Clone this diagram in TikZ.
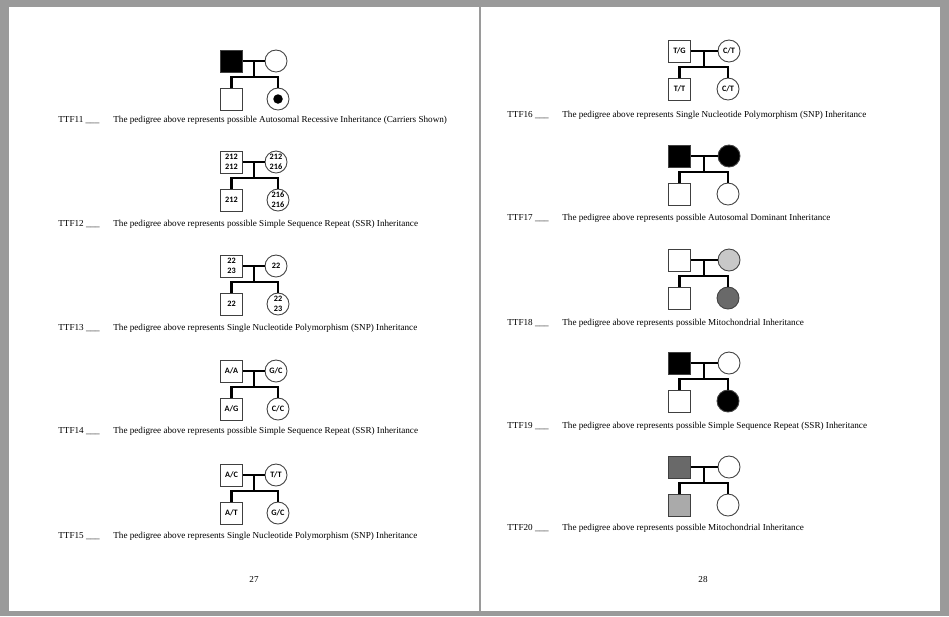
\documentclass[tikz,border=0pt]{standalone}
\usepackage{fontspec}
\setmainfont{Liberation Serif}
\newfontfamily\genofont{Carlito}
\usepackage{tikz}
\usetikzlibrary{calc}
\usepackage{xcolor}

\definecolor{pagegray}{RGB}{154,154,154}
\definecolor{lightfill}{RGB}{200,200,200}
\definecolor{darkfill}{RGB}{105,105,105}

\newcommand{\geno}{\genofont\bfseries\fontsize{4.7}{5.6}\selectfont}
\newcommand{\capt}{\fontsize{5.2}{6.2}\selectfont}

% lines of one pedigree: father f, mother m, son s, daughter d
\newcommand{\pedlines}[1]{%
  \coordinate (#1j) at ($(#1f.east)!0.5!(#1m.west)$);
  \draw[link] (#1f) -- (#1m);
  \draw[link] (#1j) -- ++(0,16) coordinate (#1k);
  \draw[link] (#1s.north) |- (#1k) -| (#1d.north);
}

\tikzset{
  male/.style={draw=black!75,line width=0.5pt,minimum size=0.44cm,inner sep=0pt,
    font=\geno,align=center},
  female/.style={male,circle},
  aff/.style={fill=black},
  link/.style={line width=1.2pt},
  caption/.style={anchor=base west,inner sep=0pt,font=\capt},
}

\begin{document}
\begin{tikzpicture}[x=0.02cm,y=-0.02cm]
\fill[pagegray] (0,0) rectangle (949,616);
\fill[white] (9,7) rectangle (478.5,611);
\fill[white] (480.5,7) rectangle (940,611);

% page 27
\node[male,aff] (af) at (231.5,61) {};
\node[female] (am) at (276,61) {};
\node[male] (as) at (231.5,99) {};
\node[female] (ad) at (278,99) {};
\node[circle,fill=black,minimum size=0.19cm,inner sep=0pt] (adot) at (ad) {};
\pedlines{a}
\node[caption] (ac) at (58,122) {TTF11 \_\_\_};
\node[caption] (at) at (113,122) {The pedigree above represents possible Autosomal Recessive Inheritance (Carriers Shown)};

\node[male] (bf) at (231.5,162) {212\\212};
\node[female] (bm) at (276,162) {212\\216};
\node[male] (bs) at (231.5,200) {212};
\node[female] (bd) at (278,200) {216\\216};
\pedlines{b}
\node[caption] (bc) at (58,226) {TTF12 \_\_\_};
\node[caption] (bt) at (113,226) {The pedigree above represents possible Simple Sequence Repeat (SSR) Inheritance};

\node[male] (cf) at (231.5,266) {22\\23};
\node[female] (cm) at (276,266) {22};
\node[male] (cs) at (231.5,304) {22};
\node[female] (cd) at (278,304) {22\\23};
\pedlines{c}
\node[caption] (cc) at (58,330) {TTF13 \_\_\_};
\node[caption] (ct) at (113,330) {The pedigree above represents Single Nucleotide Polymorphism (SNP) Inheritance};

\node[male] (df) at (231.5,371) {A/A};
\node[female] (dm) at (276,371) {G/C};
\node[male] (ds) at (231.5,409) {A/G};
\node[female] (dd) at (278,409) {C/C};
\pedlines{d}
\node[caption] (dc) at (58,433) {TTF14 \_\_\_};
\node[caption] (dt) at (113,433) {The pedigree above represents possible Simple Sequence Repeat (SSR) Inheritance};

\node[male] (ef) at (231.5,475) {A/C};
\node[female] (em) at (276,475) {T/T};
\node[male] (es) at (231.5,513) {A/T};
\node[female] (ed) at (278,513) {G/C};
\pedlines{e}
\node[caption] (ec) at (58,538) {TTF15 \_\_\_};
\node[caption] (et) at (113,538) {The pedigree above represents Single Nucleotide Polymorphism (SNP) Inheritance};

\node[font=\capt] (p27) at (254,579) {27};

% page 28
\node[male] (ff) at (679.5,51) {T/G};
\node[female] (fm) at (729,51) {C/T};
\node[male] (fs) at (679.5,89) {T/T};
\node[female] (fd) at (728,89) {C/T};
\pedlines{f}
\node[caption] (fc) at (507,117) {TTF16 \_\_\_};
\node[caption] (ft) at (562,117) {The pedigree above represents Single Nucleotide Polymorphism (SNP) Inheritance};

\node[male,aff] (gf) at (679.5,156) {};
\node[female,aff] (gm) at (729,156) {};
\node[male] (gs) at (679.5,194) {};
\node[female] (gd) at (728,194) {};
\pedlines{g}
\node[caption] (gc) at (507,220) {TTF17 \_\_\_};
\node[caption] (gt) at (562,220) {The pedigree above represents possible Autosomal Dominant Inheritance};

\node[male] (hf) at (679.5,260) {};
\node[female,fill=lightfill] (hm) at (729,260) {};
\node[male] (hs) at (679.5,298) {};
\node[female,fill=darkfill] (hd) at (728,298) {};
\pedlines{h}
\node[caption] (hc) at (507,325) {TTF18 \_\_\_};
\node[caption] (ht) at (562,325) {The pedigree above represents possible Mitochondrial Inheritance};

\node[male,aff] (if) at (679.5,363) {};
\node[female] (im) at (729,363) {};
\node[male] (is) at (679.5,401) {};
\node[female,aff] (id) at (728,401) {};
\pedlines{i}
\node[caption] (ic) at (507,428) {TTF19 \_\_\_};
\node[caption] (it) at (562,428) {The pedigree above represents possible Simple Sequence Repeat (SSR) Inheritance};

\node[male,fill=darkfill] (kf) at (679.5,467) {};
\node[female] (km) at (729,467) {};
\node[male,fill=lightfill!85!black] (ks) at (679.5,505) {};
\node[female] (kd) at (728,505) {};
\pedlines{k}
\node[caption] (kc) at (507,530) {TTF20 \_\_\_};
\node[caption] (kt) at (562,530) {The pedigree above represents possible Mitochondrial Inheritance};

\node[font=\capt] (p28) at (703,579) {28};
\end{tikzpicture}
\end{document}
